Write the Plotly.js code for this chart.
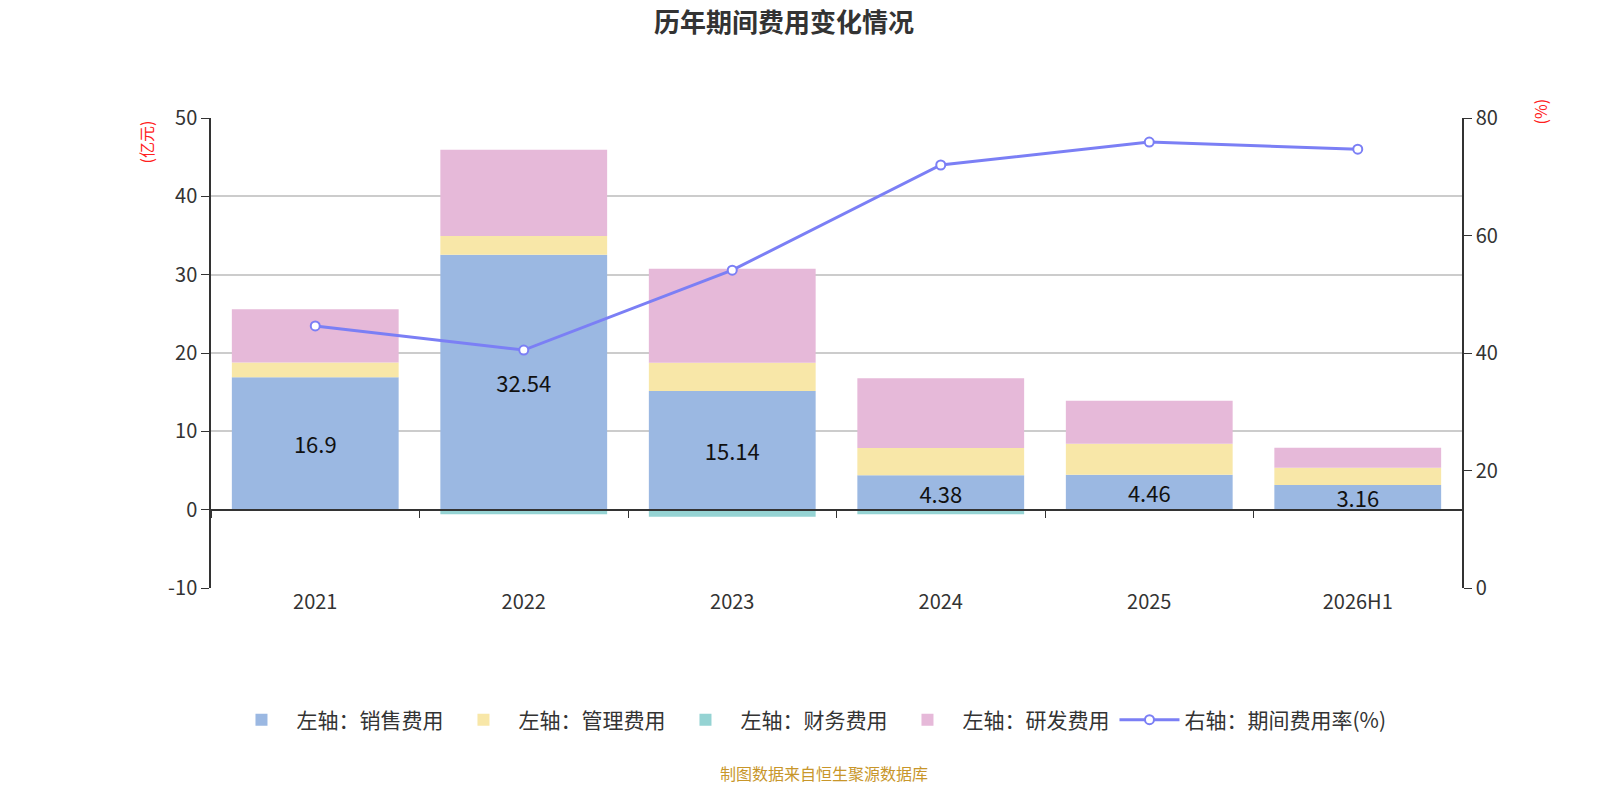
<!DOCTYPE html>
<html>
<head>
<meta charset="utf-8">
<script src="https://cdn.plot.ly/plotly-3.0.1.min.js"></script>
<style>
  html, body { margin: 0; padding: 0; background: #fff; }
  #chart { width: 1600px; height: 800px; }
</style>
</head>
<body>
<div id="chart"></div>
<script>
// 年份
const years = ["2021", "2022", "2023", "2024", "2025", "2026H1"];
// 左轴 (亿元)
const sales = [16.9, 32.54, 15.14, 4.38, 4.46, 3.16];
const admin = [1.9, 2.4, 3.6, 3.5, 3.95, 2.2];
const finance = [0, -0.6, -0.9, -0.6, -0.1, 0];
const rnd = [6.8, 11.0, 12.0, 8.9, 5.5, 2.55];
// 右轴 (%)
const expenseRate = [44.6, 40.5, 54.1, 72.0, 75.9, 74.7];
// 刻度
const leftTicks = [-10, 0, 10, 20, 30, 40, 50];
const rightTicks = [0, 20, 40, 60, 80];

const font = "Noto Sans CJK SC, Microsoft YaHei, sans-serif";

let salesTrace = {
  x: years, y: sales,
  name: "左轴：销售费用",
  type: "bar",
  marker: { color: "#9bb8e2" },
  text: sales.map(String),
  textposition: "inside",
  insidetextanchor: "middle",
  constraintext: "none",
  textangle: 0,
  textfont: { color: "#111", size: 22, family: font },
};

let adminTrace = {
  x: years, y: admin,
  name: "左轴：管理费用",
  type: "bar",
  marker: { color: "#f8e7a8" },
  textposition: "none",
};

let financeTrace = {
  x: years, y: finance,
  name: "左轴：财务费用",
  type: "bar",
  marker: { color: "#95d3d3" },
  textposition: "none",
};

let rndTrace = {
  x: years, y: rnd,
  name: "左轴：研发费用",
  type: "bar",
  marker: { color: "#e6b9d9" },
  textposition: "none",
};

let rateTrace = {
  x: years, y: expenseRate,
  name: "右轴：期间费用率(%)",
  type: "scatter",
  mode: "lines+markers",
  xaxis: "x2",
  yaxis: "y2",
  line: { color: "#7b7ff5", width: 3 },
  marker: { color: "#fff", size: 9, line: { color: "#7b7ff5", width: 2 } },
};

let data = [salesTrace, adminTrace, financeTrace, rndTrace, rateTrace];

// 零轴位置在绘图区的比例
const zeroPos = (0 - (-10)) / (50 - (-10));

let layout = {
  width: 1600,
  height: 800,
  margin: { l: 211, r: 138, t: 118, b: 212 },
  paper_bgcolor: "#fff",
  plot_bgcolor: "#fff",
  font: { family: font, color: "#333", size: 20 },
  barmode: "relative",
  bargap: 0.2,
  title: {
    text: "<b>历年期间费用变化情况</b>",
    font: { size: 26, color: "#333", family: font },
    x: 0.49, xanchor: "center",
    y: 0.972, yanchor: "middle",
  },
  xaxis: {
    type: "category",
    showline: false,
    ticks: "",
    showgrid: false,
    tickfont: { size: 20, color: "#333" },
  },
  xaxis2: {
    type: "category",
    overlaying: "x",
    matches: "x",
    anchor: "free",
    position: zeroPos,
    showline: true,
    linecolor: "#333",
    linewidth: 1.5,
    ticks: "outside",
    tickson: "boundaries",
    ticklen: 8,
    tickcolor: "#333",
    showticklabels: false,
    showgrid: false,
  },
  yaxis: {
    range: [-10, 50],
    tickvals: leftTicks,
    ticktext: leftTicks.map(String),
    showline: true,
    linecolor: "#333",
    linewidth: 1.5,
    ticks: "outside",
    ticklen: 8,
    tickcolor: "#333",
    gridcolor: "#ccc",
    gridwidth: 1.5,
    zeroline: false,
    tickfont: { size: 20, color: "#333" },
  },
  yaxis2: {
    range: [0, 80],
    tickvals: rightTicks,
    overlaying: "y",
    side: "right",
    anchor: "x",
    showline: true,
    linecolor: "#333",
    linewidth: 1.5,
    ticks: "outside",
    ticklen: 8,
    tickcolor: "#333",
    showgrid: false,
    zeroline: false,
    tickfont: { size: 20, color: "#333" },
  },
  showlegend: true,
  legend: {
    orientation: "h",
    x: 0.478, xanchor: "center",
    y: -0.281, yanchor: "middle",
    font: { size: 21, color: "#333" },
    itemwidth: 60,
    traceorder: "normal",
  },
  annotations: [
    {
      text: "(亿元)", xref: "paper", yref: "paper",
      x: -0.052, y: 1.0, xanchor: "center", yanchor: "top",
      textangle: -90, showarrow: false,
      font: { size: 16, color: "#ff2020" },
    },
    {
      text: "(%)", xref: "paper", yref: "paper",
      x: 1.062, y: 1.045, xanchor: "center", yanchor: "top",
      textangle: -90, showarrow: false,
      font: { size: 16, color: "#ff2020" },
    },
    {
      text: "制图数据来自恒生聚源数据库", xref: "paper", yref: "paper",
      x: 0.49, y: -0.394, xanchor: "center", yanchor: "middle",
      showarrow: false,
      font: { size: 16, color: "#c8962a" },
    },
  ],
};

Plotly.newPlot("chart", data, layout, {
  displaylogo: false,
  displayModeBar: false,
});
</script>
</body>
</html>
